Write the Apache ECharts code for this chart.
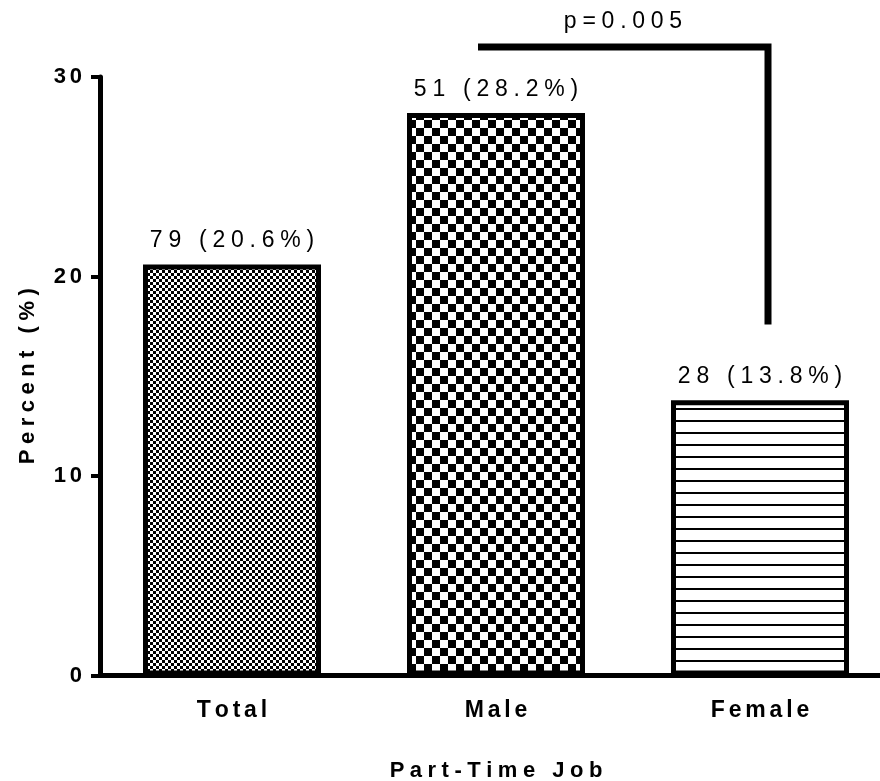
<!DOCTYPE html>
<html lang="en">
<head>
  <meta charset="UTF-8">
  <title>Part-Time Job</title>
  <style>
    html, body { margin: 0; padding: 0; background: #fff; }
    #main { width: 880px; height: 781px; }
  </style>
</head>
<body>
<div id="main"></div>
<script src="https://cdn.jsdelivr.net/npm/echarts@6/dist/echarts.min.js"></script>
<script>
  // data
  var categories = ['Total', 'Male', 'Female'];
  var percents = [20.6, 28.2, 13.8];
  var counts = [79, 51, 28];
  var yTicks = [0, 10, 20, 30];
  var pText = 'p=0.005';
  var bracketTop = 31.5;     // value level of the bracket bar
  var bracketBottom = 17.6;  // where the right leg stops

  var FONT = '"Liberation Sans", Arial, sans-serif';

  // wide tracking like the original (inserted thin spaces)
  function track(s, sp) {
    return s.split('').join(sp);
  }

  function checker(size) {
    var c = document.createElement('canvas');
    c.width = size * 2;
    c.height = size * 2;
    var ctx = c.getContext('2d');
    ctx.fillStyle = '#fff';
    ctx.fillRect(0, 0, c.width, c.height);
    ctx.fillStyle = '#000';
    ctx.fillRect(0, 0, size, size);
    ctx.fillRect(size, size, size, size);
    return c;
  }

  function hlines(gap, w) {
    var c = document.createElement('canvas');
    c.width = 8;
    c.height = gap;
    var ctx = c.getContext('2d');
    ctx.fillStyle = '#fff';
    ctx.fillRect(0, 0, c.width, c.height);
    ctx.fillStyle = '#000';
    ctx.fillRect(0, 0, c.width, w);
    return c;
  }

  var patterns = [checker(3), checker(8), hlines(12, 2)];

  var chartDom = document.getElementById('main');
  var myChart = echarts.init(chartDom);

  var barData = percents.map(function (v, i) {
    return {
      value: v,
      itemStyle: { color: { image: patterns[i], repeat: 'repeat' } }
    };
  });

  var boldText = { fontFamily: FONT, fontWeight: 'bold', color: '#000' };

  myChart.setOption({
    animation: false,
    grid: { left: 100, top: 77, width: 792, bottom: 105.5, outerBoundsMode: 'none' },
    xAxis: {
      type: 'category',
      data: categories,
      name: track('Part-Time Job', '\u2005'),
      nameLocation: 'middle',
      nameGap: 84,
      nameTextStyle: Object.assign({ fontSize: 22 }, boldText),
      axisLine: { lineStyle: { color: '#000', width: 5 } },
      axisTick: { alignWithLabel: true, length: 12, lineStyle: { color: '#000', width: 4 } },
      axisLabel: Object.assign({
        margin: 24,
        fontSize: 23,
        formatter: function (v) { return track(v, '\u2006'); }
      }, boldText)
    },
    yAxis: {
      type: 'value',
      min: 0,
      max: 30,
      interval: 10,
      name: track('Percent (%)', '\u2005'),
      nameLocation: 'middle',
      nameRotate: 90,
      nameGap: 61,
      nameTextStyle: Object.assign({ fontSize: 22 }, boldText),
      splitLine: { show: false },
      axisLine: { show: true, lineStyle: { color: '#000', width: 5 } },
      axisTick: { show: true, length: 9, lineStyle: { color: '#000', width: 4 } },
      axisLabel: Object.assign({
        margin: 18,
        fontSize: 22,
        formatter: function (v) {
          return yTicks.indexOf(v) >= 0 ? track(String(v), '\u2006') : '';
        }
      }, boldText)
    },
    series: [{
      type: 'bar',
      data: barData,
      barWidth: 178,
      itemStyle: { borderColor: '#000', borderWidth: 5 },
      label: {
        show: true,
        position: 'top',
        distance: 12,
        fontFamily: FONT, fontSize: 23, color: '#000',
        formatter: function (p) {
          return track(counts[p.dataIndex] + ' (' + percents[p.dataIndex] + '%)', '\u2005');
        }
      }
    }]
  });

  // significance bracket between Male and Female
  var pMale = myChart.convertToPixel({ xAxisIndex: 0, yAxisIndex: 0 }, ['Male', bracketTop]);
  var pFemale = myChart.convertToPixel({ xAxisIndex: 0, yAxisIndex: 0 }, ['Female', bracketBottom]);
  var xL = pMale[0] - 18, xR = pFemale[0] + 8, yT = pMale[1], yB = pFemale[1];

  myChart.setOption({
    graphic: [
      {
        type: 'polyline',
        shape: { points: [[xL, yT], [xR, yT], [xR, yB]] },
        style: { stroke: '#000', lineWidth: 7, fill: null, lineJoin: 'miter' }
      },
      {
        type: 'text',
        x: (xL + xR) / 2,
        y: yT - 25,
        style: {
          text: track(pText, '\u2005'),
          fontFamily: FONT, fontSize: 23, fill: '#000',
          align: 'center', verticalAlign: 'middle'
        }
      }
    ]
  });
</script>
</body>
</html>
